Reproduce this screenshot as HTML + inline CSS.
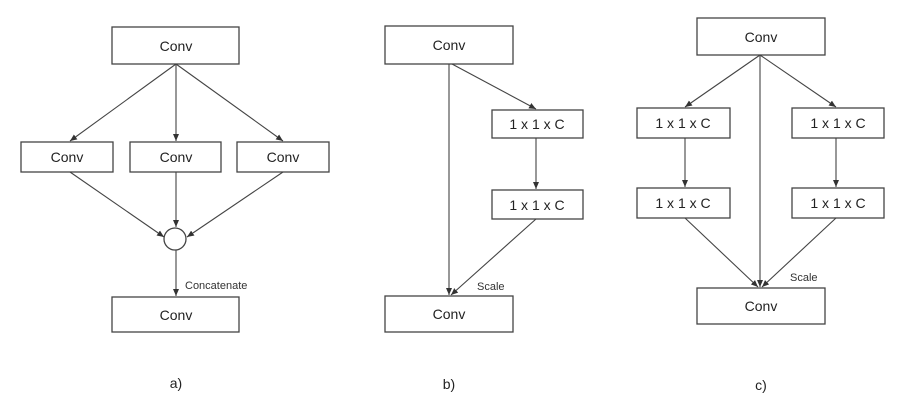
<!DOCTYPE html>
<html><head><style>body{margin:0;background:#fff}</style></head><body>
<svg width="915" height="410" xmlns="http://www.w3.org/2000/svg" font-family="Liberation Sans, sans-serif">
<defs><marker id="a" markerWidth="8" markerHeight="8" refX="7" refY="4" orient="auto" markerUnits="userSpaceOnUse"><path d="M0,1 L7,4 L0,7z" fill="#333"/></marker></defs>
<g fill="#fff" stroke="#444" stroke-width="1.3">
<rect x="112" y="27" width="127" height="37"/>
<rect x="21" y="142" width="92" height="30"/>
<rect x="130" y="142" width="91" height="30"/>
<rect x="237" y="142" width="92" height="30"/>
<circle cx="175" cy="239" r="11"/>
<rect x="112" y="297" width="127" height="35"/>
<rect x="385" y="26" width="128" height="38"/>
<rect x="492" y="110" width="91" height="28"/>
<rect x="492" y="190" width="91" height="29"/>
<rect x="385" y="296" width="128" height="36"/>
<rect x="697" y="18" width="128" height="37"/>
<rect x="637" y="108" width="93" height="30"/>
<rect x="792" y="108" width="92" height="30"/>
<rect x="637" y="188" width="93" height="30"/>
<rect x="792" y="188" width="92" height="30"/>
<rect x="697" y="288" width="128" height="36"/>
</g>
<g stroke="#444" stroke-width="1.1" fill="none" marker-end="url(#a)">
<line x1="176" y1="64" x2="70" y2="141"/>
<line x1="176" y1="64" x2="176" y2="141"/>
<line x1="176" y1="64" x2="283" y2="141"/>
<line x1="70" y1="172" x2="164" y2="237"/>
<line x1="176" y1="172" x2="176" y2="227"/>
<line x1="283" y1="172" x2="187" y2="237"/>
<line x1="176" y1="250" x2="176" y2="296"/>
<line x1="449" y1="64" x2="449" y2="295"/>
<line x1="452" y1="64" x2="536" y2="109"/>
<line x1="536" y1="138" x2="536" y2="189"/>
<line x1="536" y1="219" x2="451" y2="295"/>
<line x1="760" y1="55" x2="685" y2="107"/>
<line x1="760" y1="55" x2="836" y2="107"/>
<line x1="760" y1="55" x2="760" y2="287"/>
<line x1="685" y1="138" x2="685" y2="187"/>
<line x1="836" y1="138" x2="836" y2="187"/>
<line x1="685" y1="218" x2="758" y2="287"/>
<line x1="836" y1="218" x2="762" y2="287"/>
</g>
<g fill="#222" font-size="14" text-anchor="middle">
<text x="176" y="51">Conv</text><text x="67" y="162">Conv</text><text x="176" y="162">Conv</text><text x="283" y="162">Conv</text><text x="176" y="320">Conv</text>
<text x="449" y="50">Conv</text><text x="537" y="129">1 x 1 x C</text><text x="537" y="210">1 x 1 x C</text><text x="449" y="319">Conv</text>
<text x="761" y="42">Conv</text><text x="683" y="128">1 x 1 x C</text><text x="838" y="128">1 x 1 x C</text><text x="683" y="208">1 x 1 x C</text><text x="838" y="208">1 x 1 x C</text><text x="761" y="311">Conv</text>
<text x="176" y="388">a)</text><text x="449" y="389">b)</text><text x="761" y="390">c)</text>
</g>
<g fill="#333" font-size="11">
<text x="185" y="289">Concatenate</text><text x="477" y="290">Scale</text><text x="790" y="281">Scale</text>
</g>
</svg>
</body></html>
